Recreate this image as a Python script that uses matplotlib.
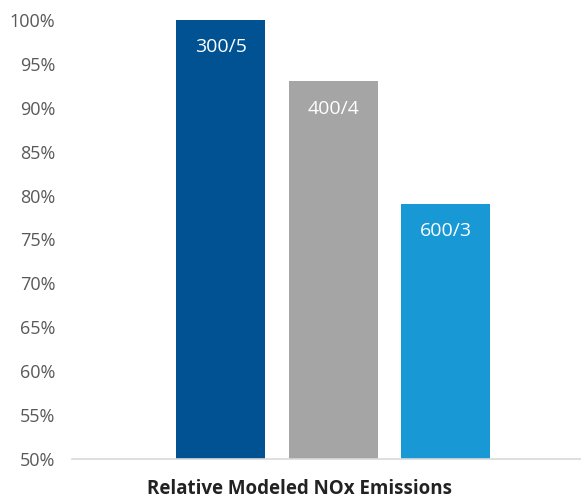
import matplotlib
matplotlib.use("Agg")
import matplotlib.pyplot as plt
from matplotlib.ticker import FuncFormatter

# data
categories = ["300/5", "400/4", "600/3"]
values = [100, 93, 79]
colors = ["#005293", "#A5A5A5", "#1899D6"]
yticks = list(range(50, 101, 5))

plt.rcParams["font.family"] = ["Open Sans", "DejaVu Sans"]

fig = plt.figure(figsize=(5.81, 5.03), dpi=100)
ax = fig.add_axes([72 / 581, 1 - 459 / 503, 509 / 581, 439 / 503])

xs = range(len(categories))
bars = ax.bar(xs, values, width=0.79, color=colors, zorder=2)

for b, lab in zip(bars, categories):
    ax.annotate(lab, (b.get_x() + b.get_width() / 2, b.get_height()),
                xytext=(0, -13), textcoords="offset points",
                ha="center", va="top", color="white", fontsize=14)

ax.set_ylim(50, 100)
ax.set_xlim(-1.32, 3.2)
ax.set_yticks(yticks)
ax.yaxis.set_major_formatter(FuncFormatter(lambda v, _: f"{v:.0f}%"))
ax.tick_params(axis="y", length=0, pad=12, labelsize=13, labelcolor="#595959")
ax.set_xticks([])

for s in ["top", "right", "left"]:
    ax.spines[s].set_visible(False)
ax.spines["bottom"].set_color("#D9D9D9")
ax.spines["bottom"].set_linewidth(1.2)

fig.text(299 / 581, 1 - 489 / 503, "Relative Modeled NOx Emissions",
         ha="center", va="center", fontsize=13.5, fontweight="bold", color="#222222")

fig.savefig("out.png", dpi=100)
